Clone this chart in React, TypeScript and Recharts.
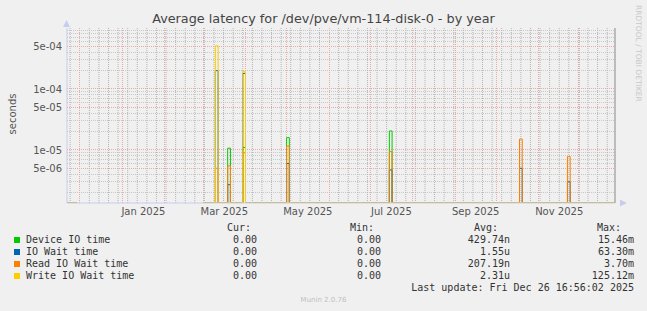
import React from 'react';
import { LineChart, Line, XAxis, YAxis, CartesianGrid, ReferenceLine } from 'recharts';

// x values are days since 1 Jan 2025 (UTC)
const DAY_MS = 86400000;
const toDay = (y: number, m: number, d: number) => (Date.UTC(y, m, d) - Date.UTC(2025, 0, 1)) / DAY_MS;

const lastUpdate = toDay(2025, 11, 26) + (16 * 60 + 56) / 1440;
const xDomain = [lastUpdate - 400, lastUpdate];
const yDomain = [1.35e-6, 1e-3];

const seriesKeys = ['device', 'iowait', 'read', 'write'];
const seriesNames = ['Device IO time', 'IO Wait time', 'Read IO Wait time', 'Write IO Wait time'];
const seriesColors = ['#00cc00', '#0066b3', '#ff8000', '#ffcc00'];

// days with activity, and the latency (seconds) seen that day
const spikeDays = [68, 77, 88, 120, 195, 290, 325];
const deviceIO = [0, 1.07e-5, 1.1e-5, 1.59e-5, 2.05e-5, 0, 0];
const ioWait = [2e-4, 2.7e-6, 1.8e-4, 6e-6, 4.7e-6, 5e-6, 3e-6];
const readWait = [5e-6, 5.5e-6, 9e-6, 1.16e-5, 9.4e-6, 1.51e-5, 7.8e-6];
const writeWait = [5.1e-4, 0, 1.95e-4, 0, 0, 0, 0];

// stretches where the rrd has known (zero) values
const knownRanges = [
  [xDomain[0], -33],
  [59, lastUpdate],
];

const monthLabels = ['Jan 2025', 'Mar 2025', 'May 2025', 'Jul 2025', 'Sep 2025', 'Nov 2025'];
const labelMonths = [0, 2, 4, 6, 8, 10];

const legendCur = ['0.00', '0.00', '0.00', '0.00'];
const legendMin = ['0.00', '0.00', '0.00', '0.00'];
const legendAvg = ['429.74n', '1.55u', '207.19n', '2.31u'];
const legendMax = ['15.46m', '63.30m', '3.70m', '125.12m'];

const floorV = (v: number) => (v > 0 ? v : yDomain[0]);
const zeroRow = (day: number) => ({ day, device: yDomain[0], iowait: yDomain[0], read: yDomain[0], write: yDomain[0] });

const rows: any[] = [];
rows.push(zeroRow(knownRanges[0][0]), zeroRow(knownRanges[0][1]));
rows.push({ day: knownRanges[0][1] + 0.1, device: null, iowait: null, read: null, write: null });
rows.push(zeroRow(knownRanges[1][0]));
spikeDays.forEach((d, i) => {
  rows.push({
    day: d,
    device: floorV(deviceIO[i]),
    iowait: floorV(ioWait[i]),
    read: floorV(readWait[i]),
    write: floorV(writeWait[i]),
  });
  rows.push(zeroRow(d + 2));
});
rows.push(zeroRow(knownRanges[1][1]));

// grid
const monthStarts: number[] = [];
for (let m = -1; m <= 11; m++) monthStarts.push(toDay(2025, m, 1));
const weekLines: number[] = [];
for (let d = toDay(2024, 10, 24); d <= lastUpdate; d += 7) {
  if (!monthStarts.includes(d)) weekLines.push(d);
}
const monthTicks = labelMonths.map((m) => (toDay(2025, m, 1) + toDay(2025, m + 1, 1)) / 2);

const yMajor = [5e-6, 1e-5, 5e-5, 1e-4, 5e-4];
const yMinor: number[] = [];
[1e-6, 1e-5, 1e-4].forEach((e) => {
  [2, 3, 4, 6, 7, 8, 9].forEach((k) => {
    const v = k * e;
    if (v > yDomain[0] && v < yDomain[1]) yMinor.push(v);
  });
});

const fmtExp = (v: number) => {
  const [m, e] = v.toExponential(0).split('e');
  const sign = e[0] === '-' ? '-' : '+';
  const digits = e.replace(/[+-]/, '').padStart(2, '0');
  return `${m}e${sign}${digits}`;
};

const sans = '"DejaVu Sans", sans-serif';
const mono = '"DejaVu Sans Mono", monospace';

const txt = (text: string, right: number, top: number, extra: any = {}) => (
  <div
    style={{
      position: 'absolute',
      right: 647 - right,
      top,
      whiteSpace: 'pre',
      fontFamily: mono,
      fontSize: 10,
      lineHeight: '12px',
      color: '#333',
      ...extra,
    }}
  >
    {text}
  </div>
);

export default function App() {
  const rowTops = [234, 246, 258, 270];
  return (
    <div style={{ position: 'absolute', left: 0, top: 0, width: 647, height: 311, background: '#f0f0f0', overflow: 'hidden' }}>
      <div
        style={{
          position: 'absolute',
          left: 0,
          width: 647,
          top: 11,
          textAlign: 'center',
          fontFamily: sans,
          fontSize: 12.8,
          lineHeight: '16px',
          color: '#444',
        }}
      >
        Average latency for /dev/pve/vm-114-disk-0 - by year
      </div>
      <div
        style={{
          position: 'absolute',
          left: 12,
          top: 114,
          transform: 'translate(-50%, -50%) rotate(-90deg)',
          fontFamily: sans,
          fontSize: 10,
          color: '#555',
          whiteSpace: 'pre',
        }}
      >
        seconds
      </div>
      <div
        style={{
          position: 'absolute',
          left: 638,
          top: 5,
          transformOrigin: '0 0',
          transform: 'rotate(90deg) translate(0, -50%)',
          fontFamily: sans,
          fontSize: 7.5,
          color: '#c8c8c8',
          whiteSpace: 'pre',
        }}
      >
        RRDTOOL / TOBI OETIKER
      </div>

      <LineChart width={647} height={311} data={rows} margin={{ top: 28, right: 32, bottom: 78, left: 7 }}>
        <CartesianGrid
          horizontalValues={yMinor}
          vertical={false}
          stroke="#c8c8c8"
          strokeDasharray="1 1"
          shapeRendering="crispEdges"
        />
        <CartesianGrid
          horizontalValues={yMajor}
          verticalValues={monthStarts}
          stroke="#eaaaaa"
          strokeDasharray="1 1"
          shapeRendering="crispEdges"
        />
        <XAxis
          dataKey="day"
          type="number"
          domain={xDomain}
          allowDataOverflow
          ticks={monthTicks}
          tickFormatter={(v: number) => monthLabels[monthTicks.indexOf(v)] ?? ''}
          tickLine={false}
          tickSize={3}
          tickMargin={2}
          axisLine={{ stroke: '#c8cdf0' }}
          tick={{ fontSize: 10, fill: '#555', fontFamily: sans }}
          interval={0}
        />
        <YAxis
          scale="log"
          type="number"
          domain={yDomain}
          allowDataOverflow
          ticks={yMajor}
          tickFormatter={fmtExp}
          tickLine={false}
          tickSize={3}
          tickMargin={2}
          width={60}
          axisLine={{ stroke: '#c8cdf0' }}
          tick={{ fontSize: 10, fill: '#555', fontFamily: sans }}
          interval={0}
        />
        {weekLines.map((d) => (
          <ReferenceLine key={`w${d}`} x={d} stroke="#b4b4b4" strokeDasharray="1 1" ifOverflow="extendDomain" />
        ))}
        <ReferenceLine x={xDomain[1]} stroke="#888" />
        {seriesKeys.map((k, i) => (
          <Line
            key={k}
            type="stepAfter"
            dataKey={k}
            stroke={seriesColors[i]}
            strokeWidth={1}
            dot={false}
            activeDot={false}
            connectNulls={false}
            isAnimationActive={false}
          />
        ))}
      </LineChart>

      <svg width={647} height={311} style={{ position: 'absolute', left: 0, top: 0, pointerEvents: 'none' }}>
        <polygon points="63,27 70,27 66.5,20" fill="#c8cdf0" />
        <polygon points="620,199.5 620,206.5 627,203" fill="#c8cdf0" />
      </svg>

      {txt('Cur:', 251, 222)}
      {txt('Min:', 374, 222)}
      {txt('Avg:', 498, 222)}
      {txt('Max:', 621, 222)}
      {seriesNames.map((name, i) => (
        <React.Fragment key={name}>
          <div
            style={{
              position: 'absolute',
              left: 14,
              top: rowTops[i] + 3,
              width: 6,
              height: 6,
              background: seriesColors[i],
            }}
          />
          <div
            style={{
              position: 'absolute',
              left: 26,
              top: rowTops[i],
              whiteSpace: 'pre',
              fontFamily: mono,
              fontSize: 10,
              lineHeight: '12px',
              color: '#333',
            }}
          >
            {name}
          </div>
          {txt(legendCur[i], 257, rowTops[i])}
          {txt(legendMin[i], 381, rowTops[i])}
          {txt(legendAvg[i], 510, rowTops[i])}
          {txt(legendMax[i], 634, rowTops[i])}
        </React.Fragment>
      ))}
      {txt('Last update: Fri Dec 26 16:56:02 2025', 634, 282)}
      <div
        style={{
          position: 'absolute',
          left: 0,
          width: 647,
          top: 296,
          textAlign: 'center',
          fontFamily: sans,
          fontSize: 7,
          lineHeight: '9px',
          color: '#c0c0c0',
        }}
      >
        Munin 2.0.76
      </div>
    </div>
  );
}
